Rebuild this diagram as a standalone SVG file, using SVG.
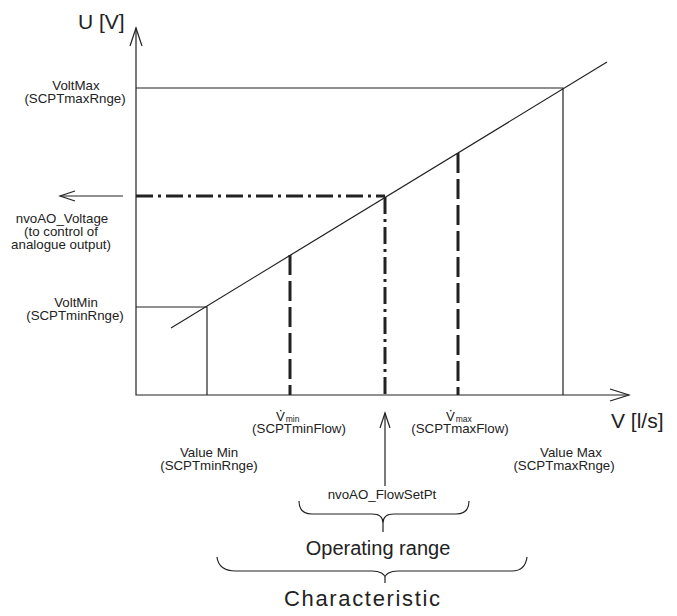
<svg xmlns="http://www.w3.org/2000/svg" width="677" height="616" viewBox="0 0 677 616">
<style>
text{font-family:"Liberation Sans",Arial,sans-serif;fill:#222}
.s{font-size:13.3px}
.sub{font-size:8.5px}
.l{font-size:21px}
.m{font-size:20px}
.thin{stroke:#222;stroke-width:1.2;fill:none}
.dash{stroke:#222;stroke-width:3;fill:none;stroke-dasharray:20 6}
.dd{stroke:#222;stroke-width:3;fill:none;stroke-dasharray:17 5 3 5}
</style>
<rect width="677" height="616" fill="#fff"/>
<g id="connectors">
<path class="thin" d="M136,28 L136,395 L629,395"/>
<path class="thin" d="M130,46 L136,28 L142,46"/>
<path class="thin" d="M610,389 L629,395 L610,401"/>
<path class="thin" d="M171,328 L607,62"/>
<path class="thin" d="M136,88 L563,88 L563,395"/>
<path class="thin" d="M136,307 L207,307 L207,395"/>
<path class="dash" d="M290,255 L290,395"/>
<path class="dash" d="M458,153 L458,395"/>
<path class="dd" d="M136,196 L385,196"/>
<path class="dd" d="M385,197 L385,395"/>
<path class="thin" d="M123,196 L60,196"/>
<path class="thin" d="M75,191 L60,196 L75,201"/>
<path class="thin" d="M385,486 L385,413"/>
<path class="thin" d="M380,428 L385,413 L390,428"/>
<path class="thin" d="M299,501 C299,509 302,514 312,514 L372,514 C379,514 383,517 383,523 L383,532 M383,523 C383,517 387,514 394,514 L456,514 C466,514 469,509 469,501"/>
<path class="thin" d="M217,557 C218,566 224,571 236,571 L372,571 C380,571 385,574 385,578 L385,583 M385,578 C385,574 390,571 398,571 L512,571 C522,571 526,565 527,557"/>
</g>
<g id="axis-labels">
<text class="l" x="78" y="29">U [V]</text>
<text class="l" x="611" y="428">V [l/s]</text>
</g>
<g id="voltmax">
<text class="s" x="76" y="90" text-anchor="middle">VoltMax</text>
<text class="s" x="75" y="103" text-anchor="middle">(SCPTmaxRnge)</text>
</g>
<g id="voltmin">
<text class="s" x="76" y="307" text-anchor="middle">VoltMin</text>
<text class="s" x="75" y="320" text-anchor="middle">(SCPTminRnge)</text>
</g>
<g id="nvoao-voltage">
<text class="s" x="62" y="223" text-anchor="middle">nvoAO_Voltage</text>
<text class="s" x="61" y="236" text-anchor="middle">(to control of</text>
<text class="s" x="61" y="249" text-anchor="middle">analogue output)</text>
</g>
<g id="vmin">
<text class="s" x="276" y="421">V<tspan dx="-6.3" dy="-7">·</tspan><tspan class="sub" dx="2.7" dy="8">min</tspan></text>
<text class="s" x="299" y="433" text-anchor="middle">(SCPTminFlow)</text>
</g>
<g id="vmax">
<text class="s" x="446" y="421">V<tspan dx="-6.3" dy="-7">·</tspan><tspan class="sub" dx="2.7" dy="8">max</tspan></text>
<text class="s" x="460" y="433" text-anchor="middle">(SCPTmaxFlow)</text>
</g>
<g id="value-min">
<text class="s" x="209" y="457" text-anchor="middle">Value Min</text>
<text class="s" x="209" y="470" text-anchor="middle">(SCPTminRnge)</text>
</g>
<g id="value-max">
<text class="s" x="571" y="457" text-anchor="middle">Value Max</text>
<text class="s" x="564" y="470" text-anchor="middle">(SCPTmaxRnge)</text>
</g>
<g id="flowsetpt">
<text class="s" x="382" y="499" text-anchor="middle">nvoAO_FlowSetPt</text>
</g>
<g id="operating-range">
<text class="m" x="378" y="555" text-anchor="middle">Operating range</text>
</g>
<g id="characteristic">
<text x="362" y="606" font-size="22" text-anchor="middle" textLength="156" lengthAdjust="spacing">Characteristic</text>
</g>
</svg>
